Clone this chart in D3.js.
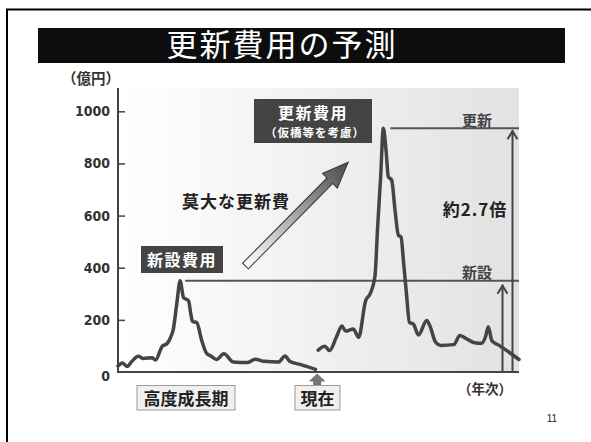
<!DOCTYPE html>
<html>
<head>
<meta charset="utf-8">
<script src="https://cdn.jsdelivr.net/npm/d3@7"></script>
<style>
  html, body { margin: 0; padding: 0; background: #fff; }
  svg { display: block; }
  .jp { font-family: "Noto Sans CJK JP", "Noto Sans", sans-serif; }
  .num { font-family: "DejaVu Sans Condensed", "Liberation Sans Narrow", "Liberation Sans", sans-serif; }
</style>
</head>
<body>
<svg id="chart" width="591" height="442"></svg>
<script>
// Construction spending through the high-growth era up to today (億円 per year)
const buildYears  = [1950, 1951.3, 1952.7, 1954.1, 1956.1, 1957.6, 1960.3, 1961.2, 1963.3, 1964.5, 1965.9, 1966.5,
                     1967.6, 1968.6, 1969.6, 1971.1, 1971.8, 1972.3, 1973.6, 1975, 1976.5, 1977.8, 1979.5, 1981.7,
                     1984.5, 1988.6, 1991.1, 1993.7, 1998, 2000, 2001.5, 2004.5, 2009.1];
const buildValues = [23, 35, 21, 40, 60, 52, 55, 46, 100, 107, 138, 161,
                     263, 350, 286, 273, 222, 194, 189, 123, 72, 61, 48, 70,
                     38, 36, 49, 41, 38, 61, 40, 29, 10];

// Projected renewal spending, temporary bridges included (億円 per year)
const renewYears  = [2009.9, 2011.9, 2013.3, 2015.4, 2017, 2018.1, 2020.4, 2022, 2024.1, 2025.4, 2026.9, 2027.7,
                     2028.6, 2029.4, 2030.2, 2030.9, 2031.9, 2032.9, 2033.9, 2034.7, 2035.4, 2036.4, 2037.2, 2038.4,
                     2039.9, 2042.4, 2043.5, 2045, 2046.6, 2050.5, 2052.3, 2054.6, 2056.8, 2058.8, 2060, 2060.8,
                     2061.9, 2063.8, 2070];
const renewValues = [84, 99, 82, 135, 176, 157, 165, 133, 273, 299, 368, 557,
                     749, 935, 852, 749, 736, 621, 525, 518, 430, 289, 190, 184,
                     142, 198, 171, 115, 102, 105, 140, 125, 112, 110, 136, 174,
                     119, 104, 48];

const yTicks = [0, 200, 400, 600, 800, 1000];
const yearDomain = [1950, 2070];
const presentYear = 2009.9;

const svg = d3.select("#chart");
const W = 591, H = 442;
const plot = { left: 118, right: 519, top: 88, bottom: 372 };

const x = d3.scaleLinear().domain(yearDomain).range([plot.left, plot.right]);
const y = d3.scaleLinear().domain([0, 1000]).range([plot.bottom, 111.3]);

const defs = svg.append("defs");
const bgGrad = defs.append("linearGradient").attr("id", "bgGrad")
  .attr("x1", 0).attr("x2", 1).attr("y1", 0).attr("y2", 0);
bgGrad.append("stop").attr("offset", 0).attr("stop-color", "#ffffff");
bgGrad.append("stop").attr("offset", 1).attr("stop-color", "#e2e2e2");

const arrowGrad = defs.append("linearGradient").attr("id", "arrowGrad")
  .attr("x1", 0).attr("x2", 1).attr("y1", 0).attr("y2", 0);
arrowGrad.append("stop").attr("offset", 0).attr("stop-color", "#ffffff");
arrowGrad.append("stop").attr("offset", 1).attr("stop-color", "#4a4a4a");

// slide frame
svg.append("path")
  .attr("d", `M7,${H + 5} L7,9.5 L${W + 5},9.5`)
  .attr("fill", "none").attr("stroke", "#000").attr("stroke-width", 2);

// title bar
svg.append("rect").attr("x", 38).attr("y", 28).attr("width", 527).attr("height", 35).attr("fill", "#0d0d0d");
svg.append("text").attr("class", "jp")
  .attr("x", 282).attr("y", 56).attr("text-anchor", "middle")
  .attr("fill", "#fff").attr("font-size", 31).attr("letter-spacing", 2)
  .text("更新費用の予測");

// plot background
svg.append("rect")
  .attr("x", plot.left).attr("y", plot.top)
  .attr("width", plot.right - plot.left).attr("height", plot.bottom - plot.top)
  .attr("fill", "url(#bgGrad)");

// unit label
svg.append("text").attr("class", "jp")
  .attr("x", 91).attr("y", 84).attr("text-anchor", "middle")
  .attr("font-size", 14.5).attr("font-weight", "bold").attr("fill", "#333")
  .text("（億円）");

// y axis
const yAxis = d3.axisRight(y).tickValues(yTicks.filter(d => d > 0)).tickSize(7).tickFormat("");
const gAxis = svg.append("g").attr("transform", `translate(${plot.left},0)`).call(yAxis);
gAxis.select(".domain").remove();
gAxis.selectAll(".tick line").attr("stroke", "#444").attr("stroke-width", 1.5);
svg.append("line")
  .attr("x1", plot.left).attr("x2", plot.left).attr("y1", plot.top).attr("y2", plot.bottom + 1)
  .attr("stroke", "#444").attr("stroke-width", 2);
svg.append("line")
  .attr("x1", plot.left).attr("x2", plot.right).attr("y1", plot.bottom).attr("y2", plot.bottom)
  .attr("stroke", "#444").attr("stroke-width", 2);

svg.append("g").selectAll("text").data(yTicks).join("text")
  .attr("class", "num")
  .attr("x", 110).attr("y", d => y(d) + (d === 0 ? 9 : 5))
  .attr("text-anchor", "end").attr("font-size", 14).attr("font-weight", "bold").attr("fill", "#333")
  .text(d => d);

// reference levels: construction peak and renewal peak
const buildPeak = d3.max(buildValues);
const renewPeak = d3.max(renewValues);
const buildPeakYear = buildYears[buildValues.indexOf(buildPeak)];
const renewPeakYear = renewYears[renewValues.indexOf(renewPeak)];

svg.append("line")
  .attr("x1", x(buildPeakYear) + 5).attr("x2", plot.right)
  .attr("y1", y(buildPeak)).attr("y2", y(buildPeak))
  .attr("stroke", "#555").attr("stroke-width", 2);
svg.append("line")
  .attr("x1", x(renewPeakYear) + 7).attr("x2", plot.right)
  .attr("y1", y(renewPeak)).attr("y2", y(renewPeak))
  .attr("stroke", "#555").attr("stroke-width", 2);

// spending curves
const line = d3.line().x(d => x(d[0])).y(d => y(d[1])).curve(d3.curveMonotoneX);
const buildSeries = buildYears.map((yr, i) => [yr, buildValues[i]]);
const renewSeries = renewYears.map((yr, i) => [yr, renewValues[i]]);
[buildSeries, renewSeries].forEach(s => {
  svg.append("path").datum(s).attr("d", line)
    .attr("fill", "none").attr("stroke", "#444").attr("stroke-width", 3.5)
    .attr("stroke-linejoin", "round").attr("stroke-linecap", "round");
});

// comparison arrows on the right
function upArrow(xp, yTop, yBottom) {
  svg.append("line").attr("x1", xp).attr("x2", xp).attr("y1", yTop).attr("y2", yBottom)
    .attr("stroke", "#444").attr("stroke-width", 2);
  svg.append("path")
    .attr("d", `M${xp - 5},${yTop + 9} L${xp},${yTop + 1} L${xp + 5},${yTop + 9}`)
    .attr("fill", "none").attr("stroke", "#444").attr("stroke-width", 2);
}
upArrow(512.5, y(renewPeak) + 2, plot.bottom);
upArrow(502.5, y(buildPeak) + 4, plot.bottom);

const boldJP = (sel) => sel.attr("class", "jp").attr("font-weight", "bold");

boldJP(svg.append("text")).attr("x", 477).attr("y", 125.5).attr("text-anchor", "middle")
  .attr("font-size", 15).attr("fill", "#444").text("更新");
boldJP(svg.append("text")).attr("x", 477).attr("y", 277.5).attr("text-anchor", "middle")
  .attr("font-size", 15).attr("fill", "#444").text("新設");
boldJP(svg.append("text")).attr("x", 475).attr("y", 216).attr("text-anchor", "middle")
  .attr("font-size", 17).attr("letter-spacing", 1).attr("fill", "#222").text("約2.7倍");

// labelled boxes
svg.append("rect").attr("x", 141).attr("y", 246).attr("width", 82).attr("height", 27).attr("fill", "#444");
boldJP(svg.append("text")).attr("x", 182).attr("y", 266).attr("text-anchor", "middle")
  .attr("font-size", 16).attr("letter-spacing", 1.5).attr("fill", "#fff").text("新設費用");

svg.append("rect").attr("x", 254).attr("y", 99).attr("width", 118).attr("height", 44).attr("fill", "#444");
boldJP(svg.append("text")).attr("x", 313).attr("y", 119).attr("text-anchor", "middle")
  .attr("font-size", 16).attr("letter-spacing", 1.5).attr("fill", "#fff").text("更新費用");
boldJP(svg.append("text")).attr("x", 315).attr("y", 137).attr("text-anchor", "middle")
  .attr("font-size", 11.5).attr("letter-spacing", 1).attr("fill", "#fff").text("（仮橋等を考慮）");

boldJP(svg.append("text")).attr("x", 236).attr("y", 208).attr("text-anchor", "middle")
  .attr("font-size", 17).attr("letter-spacing", 1).attr("fill", "#222").text("莫大な更新費");

// large rising arrow
const arrowLen = 146, shaftHalf = 4, headHalf = 10.5, headLen = 26;
svg.append("path")
  .attr("transform", "translate(245.5,266) rotate(-45.3)")
  .attr("d", `M0,${-shaftHalf} L${arrowLen - headLen},${-shaftHalf} L${arrowLen - headLen},${-headHalf}
              L${arrowLen},0 L${arrowLen - headLen},${headHalf} L${arrowLen - headLen},${shaftHalf} L0,${shaftHalf} Z`)
  .attr("fill", "url(#arrowGrad)").attr("stroke", "#333").attr("stroke-width", 1);

// period labels under the axis
svg.append("rect").attr("x", 137).attr("y", 385.5).attr("width", 98).attr("height", 24.5)
  .attr("fill", "#f0f0f0").attr("stroke", "#9a9a9a").attr("stroke-width", 1);
boldJP(svg.append("text")).attr("x", 186).attr("y", 405).attr("text-anchor", "middle")
  .attr("font-size", 17).attr("fill", "#222").text("高度成長期");

const px = x(presentYear) - 1;
svg.append("path")
  .attr("d", `M${px},374 L${px + 7.5},381 L${px + 3.5},381 L${px + 3.5},386 L${px - 3.5},386 L${px - 3.5},381 L${px - 7.5},381 Z`)
  .attr("fill", "#777").attr("stroke", "#666").attr("stroke-width", 0.8);
svg.append("rect").attr("x", 295).attr("y", 385.5).attr("width", 45).attr("height", 24.5)
  .attr("fill", "#f0f0f0").attr("stroke", "#9a9a9a").attr("stroke-width", 1);
boldJP(svg.append("text")).attr("x", 317.5).attr("y", 405).attr("text-anchor", "middle")
  .attr("font-size", 17).attr("fill", "#222").text("現在");

boldJP(svg.append("text")).attr("x", 485).attr("y", 393.5).attr("text-anchor", "middle")
  .attr("font-size", 13.5).attr("fill", "#333").text("（年次）");

// page number
svg.append("text").attr("font-family", "Liberation Sans, sans-serif")
  .attr("x", 552).attr("y", 422).attr("text-anchor", "middle")
  .attr("font-size", 10).attr("fill", "#222").text("11");
</script>
</body>
</html>
